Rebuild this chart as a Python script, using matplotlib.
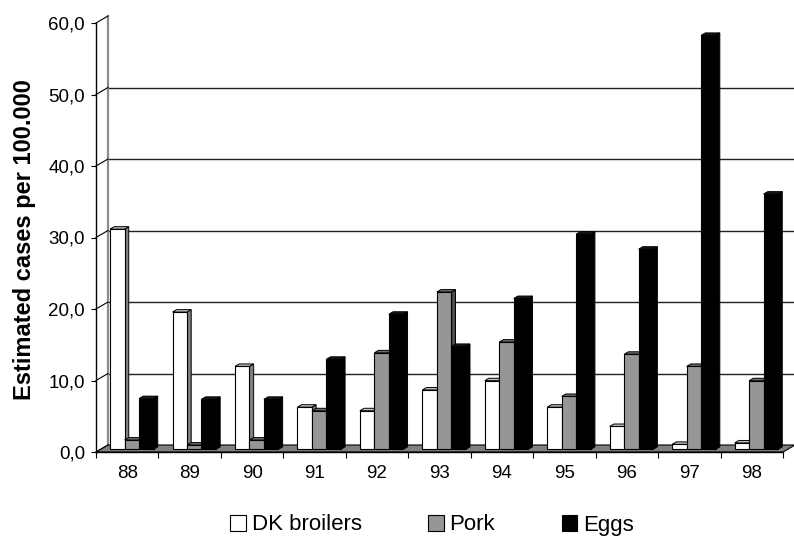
import numpy as np
import matplotlib.pyplot as plt
from matplotlib.patches import Polygon, Patch

plt.rcParams['font.family'] = ['Liberation Sans', 'DejaVu Sans']

# data (estimated cases per 100.000)
years = ['88', '89', '90', '91', '92', '93', '94', '95', '96', '97', '98']
broilers = [30.8, 19.2, 11.6, 5.9, 5.4, 8.3, 9.6, 5.9, 3.2, 0.7, 0.9]
pork = [1.3, 0.6, 1.3, 5.4, 13.5, 22.0, 15.0, 7.4, 13.3, 11.6, 9.6]
eggs = [7.1, 7.0, 7.0, 12.6, 18.9, 14.4, 21.1, 30.1, 28.0, 57.9, 35.7]
series_names = ['DK broilers', 'Pork', 'Eggs']
yticks = [0, 10, 20, 30, 40, 50, 60]

# front, side, top colours per series
face_cols = [('white', '#808080', '#c0c0c0'),
             ('#969696', '#4b4b4b', '#6e6e6e'),
             ('black', 'black', '#1a1a1a')]

W, H = 794, 536
fig = plt.figure(figsize=(W / 100, H / 100), dpi=100)

# front plane of the plot in pixels
left, right, bottom, top = 96, 783, 452, 23
ax = fig.add_axes([left / W, 1 - bottom / H, (right - left) / W, (bottom - top) / H])
n = len(years)
ymax = yticks[-1]
ax.set_xlim(0, n)
ax.set_ylim(0, ymax)
ax.patch.set_visible(False)

# depth of the 3d box, converted from pixels to data units
px_x = n / (right - left)
px_y = ymax / (bottom - top)
dx, dy = 12 * px_x, 7 * px_y

# back wall gridlines
for v in yticks[1:-1]:
    ax.plot([dx, n + dx], [v + dy, v + dy], color='#222222', lw=1.0,
            clip_on=False, zorder=1)
# back wall left edge and the side wall connectors
ax.plot([dx, dx], [dy, ymax + dy], color='#8c8c8c', lw=1.6, clip_on=False, zorder=1)
for v in yticks:
    ax.plot([0, dx], [v, v + dy], color='black', lw=0.8, clip_on=False, zorder=1)

# floor
ax.add_patch(Polygon([(0, 0), (n, 0), (n + dx, dy), (dx, dy)], closed=True,
                     fc='#808080', ec='black', lw=0.8, clip_on=False, zorder=2))

# bars with fake depth
w = 0.232
f1, f2 = 0.38, 0.73
ddx, ddy = (f2 - f1) * dx, (f2 - f1) * dy
z = 3
for i in range(n):
    for j, vals in enumerate([broilers, pork, eggs]):
        v = vals[i]
        front, side, topc = face_cols[j]
        x0 = i + 0.5 + (j - 1.5) * w + f1 * dx
        y0 = f1 * dy
        side_pts = [(x0 + w, y0), (x0 + w + ddx, y0 + ddy),
                    (x0 + w + ddx, y0 + v + ddy), (x0 + w, y0 + v)]
        top_pts = [(x0, y0 + v), (x0 + ddx, y0 + v + ddy),
                   (x0 + w + ddx, y0 + v + ddy), (x0 + w, y0 + v)]
        ax.add_patch(Polygon(side_pts, closed=True, fc=side, ec='black', lw=0.7,
                             clip_on=False, zorder=z))
        ax.add_patch(Polygon(top_pts, closed=True, fc=topc, ec='black', lw=0.7,
                             clip_on=False, zorder=z))
        ax.bar(x0, v, width=w, bottom=y0, align='edge', color=front,
               edgecolor='black', lw=0.8, clip_on=False, zorder=z + 0.5)
        z += 1

# axes, ticks, labels
for s in ['top', 'right']:
    ax.spines[s].set_visible(False)
ax.spines['left'].set_linewidth(1.0)
ax.spines['bottom'].set_linewidth(1.0)
ax.spines['left'].set_zorder(200)
ax.spines['bottom'].set_zorder(200)

ax.set_yticks(yticks)
ax.set_yticklabels([f'{v:.1f}'.replace('.', ',') for v in yticks])
ax.tick_params(axis='y', length=3.6, width=0.8, pad=4.3, labelsize=13.5)

ax.set_xticks(np.arange(n + 1))
ax.set_xticklabels([])
ax.set_xticks(np.arange(n) + 0.5, minor=True)
ax.set_xticklabels(years, minor=True)
ax.tick_params(axis='x', which='major', length=4.3, width=0.8)
ax.tick_params(axis='x', which='minor', length=0, pad=9, labelsize=13.5)

fig.text(25 / W, 1 - 240 / H, 'Estimated cases per 100.000', rotation=90,
         fontsize=17, fontweight='bold', ha='center', va='center')

handles = [Patch(facecolor=face_cols[k][0], edgecolor='black', lw=0.8)
           for k in range(3)]
fig.legend(handles, series_names, loc='center', bbox_to_anchor=(432 / W, 1 - 525 / H),
           ncol=3, frameon=False, fontsize=16, handlelength=0.7, handleheight=0.7,
           handletextpad=0.25, columnspacing=3.0, borderpad=0)

fig.savefig('out.png', dpi=100)
